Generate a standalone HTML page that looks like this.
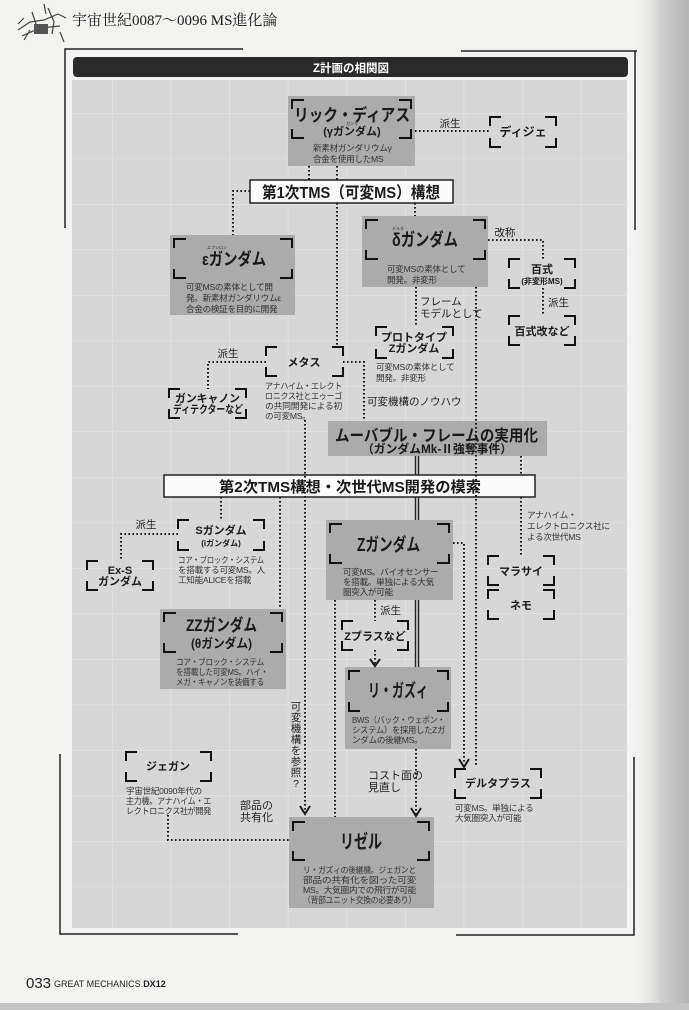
<!DOCTYPE html>
<html><head><meta charset="utf-8">
<style>
html,body{margin:0;padding:0;background:#f3f3f1;}
svg{display:block;}
text{font-family:"Liberation Sans","Noto Sans CJK JP",sans-serif;fill:#1a1a1a;}
.b{font-weight:bold;}
.d{font-size:8.6px;fill:#333;letter-spacing:-0.3px;}
.l{font-size:10.5px;fill:#222;}
</style></head>
<body>
<svg width="689" height="1010" viewBox="0 0 689 1010" xmlns="http://www.w3.org/2000/svg">
<defs>
<linearGradient id="rs" x1="0" x2="1" y1="0" y2="0">
<stop offset="0" stop-color="#f3f3f1" stop-opacity="0"/>
<stop offset="0.5" stop-color="#d0d0d0"/>
<stop offset="1" stop-color="#b4b4b4"/>
</linearGradient>
<pattern id="grid" x="112" y="113" width="58.6" height="45.5" patternUnits="userSpaceOnUse">
<rect width="58.6" height="45.5" fill="#d7d7d7"/>
<path d="M0,0 V45.5 M0,0 H58.6" stroke="#e6e6e6" stroke-width="1.2"/>
</pattern>
</defs>
<rect x="0" y="0" width="689" height="1010" fill="#f3f3f1"/>
<rect x="632" y="0" width="57" height="1010" fill="url(#rs)"/>
<rect x="0" y="1003" width="689" height="7" fill="#c4c4c4"/>

<g stroke="#444" stroke-width="1.2" fill="none">
<path d="M18,30 L30,22 L44,20 L58,14 L66,18 M22,36 L40,28 L60,26 M24,40 L30,30 M48,8 L54,22 L52,34 M44,4 L46,14 M32,12 L36,24 M60,32 L64,42 M18,24 L24,18"/>
</g>
<rect x="34" y="24" width="14" height="10" fill="#555"/>
<text x="72" y="25" style="font-family:'Liberation Serif','Noto Serif CJK SC',serif;font-size:15px;">宇宙世紀0087〜0096  MS進化論</text>

<g stroke="#222" stroke-width="1.5" fill="none">
<path d="M65,228 V49 H243"/>
<path d="M461,51 H637 M635,51 V230"/>
<path d="M60,754 V934 H238"/>
<path d="M456,935 H634 V757"/>
</g>

<rect x="73" y="57" width="555" height="20" rx="4" fill="#2a2a2a"/>
<text x="351" y="72" text-anchor="middle" class="b" style="font-size:11.5px;fill:#fff;">Z計画の相関図</text>

<rect x="72" y="80" width="555" height="848" fill="url(#grid)"/>

<g fill="#ababab">
<rect x="288" y="96" width="127" height="70"/>
<rect x="170" y="235" width="125" height="80"/>
<rect x="362" y="216" width="126" height="71"/>
<rect x="328" y="421" width="219" height="35"/>
<rect x="326" y="520" width="127" height="80"/>
<rect x="160" y="609" width="126" height="80"/>
<rect x="345" y="667" width="106" height="82"/>
<rect x="289" y="817" width="145" height="91"/>
</g>

<rect x="250" y="180" width="203" height="23" fill="#fafafa" stroke="#222" stroke-width="1.5"/>
<rect x="164" y="475" width="371" height="22" fill="#fafafa" stroke="#222" stroke-width="1.5"/>

<g stroke="#1a1a1a" stroke-width="2" stroke-dasharray="1.6 2.4" fill="none">
<path d="M415,131 H490"/>
<path d="M309,166 V180 M337,166 V180"/>
<path d="M250,191 H233 V235"/>
<path d="M337,203 V347"/>
<path d="M415,203 V216"/>
<path d="M488,240 H543 V259"/>
<path d="M543,288 V316"/>
<path d="M416,287 V327"/>
<path d="M476,287 V767"/>
<path d="M266,362 H208 V389"/>
<path d="M343,362 H364 V421"/>
<path d="M305,420 V812"/>
<path d="M521,456 V475 M521,497 V556"/>
<path d="M221,497 V520 M280,497 V609"/>
<path d="M178,534 H121 V561"/>
<path d="M453,543 H464 V764"/>
<path d="M375,600 V621 M375,650 V664"/>
<path d="M335,600 V817"/>
<path d="M416,749 V814"/>
<path d="M168,815 V840 H289"/>
</g>
<g stroke="#222" stroke-width="1.4">
<path d="M415.5,456 V475 M418.5,456 V475"/>
<path d="M415.5,497 V520 M418.5,497 V520"/>
<path d="M415.5,600 V667 M418.5,600 V667"/>
</g>
<g stroke="#1a1a1a" stroke-width="2" fill="none">
<path d="M370,659 L375,666 L380,659"/>
<path d="M300,806 L305,814 L310,806"/>
<path d="M411,808 L416,816 L421,808"/>
<path d="M459,759 L464,767 L469,759"/>
</g>

<g stroke="#111" stroke-width="2" fill="none">
<path d="M292,109 V100 H304 M399,100 H411 V109 M292,129 V138 H304 M399,138 H411 V129"/>
<path d="M490,126 V117 H501 M545,117 H556 V126 M490,138 V147 H501 M545,147 H556 V138"/>
<path d="M174,248 V239 H186 M280,239 H292 V248 M174,269 V278 H186 M280,278 H292 V269"/>
<path d="M366,229 V220 H378 M473,220 H485 V229 M366,250 V259 H378 M473,259 H485 V250"/>
<path d="M509,268 V259 H520 M564,259 H575 V268 M509,279 V288 H520 M564,288 H575 V279"/>
<path d="M509,325 V316 H520 M564,316 H575 V325 M509,336 V345 H520 M564,345 H575 V336"/>
<path d="M376,336 V327 H387 M442,327 H453 V336 M376,349 V358 H387 M442,358 H453 V349"/>
<path d="M266,356 V347 H277 M332,347 H343 V356 M266,367 V376 H277 M332,376 H343 V367"/>
<path d="M169,398 V389 H180 M235,389 H246 V398 M169,409 V418 H180 M235,418 H246 V409"/>
<path d="M178,529 V520 H189 M253,520 H264 V529 M178,541 V550 H189 M253,550 H264 V541"/>
<path d="M87,570 V561 H98 M142,561 H153 V570 M87,581 V590 H98 M142,590 H153 V581"/>
<path d="M330,533 V524 H342 M437,524 H449 V533 M330,554 V563 H342 M437,563 H449 V554"/>
<path d="M342,630 V621 H353 M397,621 H408 V630 M342,641 V650 H353 M397,650 H408 V641"/>
<path d="M164,622 V613 H176 M270,613 H282 V622 M164,643 V652 H176 M270,652 H282 V643"/>
<path d="M349,680 V671 H360 M437,671 H448 V680 M349,702 V711 H360 M437,711 H448 V702"/>
<path d="M126,761 V752 H137 M200,752 H211 V761 M126,772 V781 H137 M200,781 H211 V772"/>
<path d="M293,831 V822 H305 M417,822 H429 V831 M293,851 V860 H305 M417,860 H429 V851"/>
<path d="M455,778 V769 H466 M530,769 H541 V778 M455,789 V798 H466 M530,798 H541 V789"/>
<path d="M488,565 V556 H499 M543,556 H554 V565 M488,576 V585 H499 M543,585 H554 V576"/>
<path d="M488,599 V590 H499 M543,590 H554 V599 M488,610 V619 H499 M543,619 H554 V610"/>
</g>

<text x="294" y="121" class="b" style="font-size:17px;" textLength="116" lengthAdjust="spacingAndGlyphs">リック・ディアス</text>
<text x="352" y="125" text-anchor="middle" style="font-size:4px;">ガンマ</text>
<text x="352" y="135" text-anchor="middle" class="b" style="font-size:11px;">(γガンダム)</text>
<text x="313" y="151" class="d">新素材ガンダリウムγ</text>
<text x="313" y="162" class="d">合金を使用したMS</text>

<text x="450" y="127" text-anchor="middle" class="l">派生</text>
<text x="523" y="136" text-anchor="middle" class="b" style="font-size:12px;">ディジェ</text>

<text x="262" y="198" class="b" style="font-size:16px;" textLength="178" lengthAdjust="spacingAndGlyphs">第1次TMS（可変MS）構想</text>

<text x="207" y="249" style="font-size:4px;">エプシロン</text>
<text x="202" y="265" class="b" style="font-size:17px;" textLength="64" lengthAdjust="spacingAndGlyphs">εガンダム</text>
<text x="186" y="290" class="d">可変MSの素体として開</text>
<text x="186" y="301" class="d">発。新素材ガンダリウムε</text>
<text x="186" y="312" class="d">合金の検証を目的に開発</text>

<text x="392" y="230" style="font-size:4px;">デルタ</text>
<text x="392" y="246" class="b" style="font-size:18px;" textLength="66" lengthAdjust="spacingAndGlyphs">δガンダム</text>
<text x="387" y="272" class="d">可変MSの素体として</text>
<text x="387" y="283" class="d">開発。非変形</text>

<text x="505" y="236" text-anchor="middle" class="l">改称</text>
<text x="542" y="273" text-anchor="middle" class="b" style="font-size:11px;">百式</text>
<text x="542" y="284" text-anchor="middle" class="b" style="font-size:8px;">(非変形MS)</text>
<text x="548" y="306" class="l">派生</text>
<text x="542" y="335" text-anchor="middle" class="b" style="font-size:11px;">百式改など</text>

<text x="420" y="305" class="l">フレーム</text>
<text x="420" y="317" class="l">モデルとして</text>
<text x="414" y="341" text-anchor="middle" class="b" style="font-size:11px;">プロトタイプ</text>
<text x="414" y="352" text-anchor="middle" class="b" style="font-size:11px;">Zガンダム</text>
<text x="376" y="370" class="d">可変MSの素体として</text>
<text x="376" y="381" class="d">開発。非変形</text>

<text x="228" y="357" text-anchor="middle" class="l">派生</text>
<text x="304" y="366" text-anchor="middle" class="b" style="font-size:11px;">メタス</text>
<text x="265" y="389" class="d" textLength="77" lengthAdjust="spacingAndGlyphs">アナハイム・エレクト</text>
<text x="265" y="399" class="d" textLength="77" lengthAdjust="spacingAndGlyphs">ロニクス社とエゥーゴ</text>
<text x="265" y="409" class="d" textLength="77" lengthAdjust="spacingAndGlyphs">の共同開発による初</text>
<text x="265" y="419" class="d">の可変MS。</text>
<text x="175" y="402" class="b" style="font-size:11px;" textLength="65" lengthAdjust="spacingAndGlyphs">ガンキャノン</text>
<text x="173" y="413" class="b" style="font-size:11px;" textLength="70" lengthAdjust="spacingAndGlyphs">ディテクターなど</text>
<text x="367" y="405" class="l">可変機構のノウハウ</text>

<text x="335" y="441" class="b" style="font-size:16px;" textLength="203" lengthAdjust="spacingAndGlyphs">ムーバブル・フレームの実用化</text>
<text x="362" y="453" class="b" style="font-size:12px;" textLength="150" lengthAdjust="spacingAndGlyphs">（ガンダムMk-Ⅱ強奪事件）</text>

<text x="219" y="492" class="b" style="font-size:15px;" textLength="262" lengthAdjust="spacingAndGlyphs">第2次TMS構想・次世代MS開発の模索</text>

<text x="527" y="518" class="d">アナハイム・</text>
<text x="527" y="529" class="d">エレクトロニクス社に</text>
<text x="527" y="540" class="d">よる次世代MS</text>
<text x="521" y="575" text-anchor="middle" class="b" style="font-size:11px;">マラサイ</text>
<text x="521" y="609" text-anchor="middle" class="b" style="font-size:11px;">ネモ</text>

<text x="146" y="528" text-anchor="middle" class="l">派生</text>
<text x="221" y="534" text-anchor="middle" class="b" style="font-size:11px;">Sガンダム</text>
<text x="221" y="546" text-anchor="middle" class="b" style="font-size:8px;">(iガンダム)</text>
<text x="178" y="563" class="d" textLength="86" lengthAdjust="spacingAndGlyphs">コア・ブロック・システム</text>
<text x="178" y="573" class="d">を搭載する可変MS。人</text>
<text x="178" y="583" class="d">工知能ALICEを搭載</text>
<text x="120" y="574" text-anchor="middle" class="b" style="font-size:11px;">Ex-S</text>
<text x="120" y="585" text-anchor="middle" class="b" style="font-size:11px;">ガンダム</text>

<text x="357" y="551" class="b" style="font-size:18px;" textLength="63" lengthAdjust="spacingAndGlyphs">Zガンダム</text>
<text x="343" y="575" class="d">可変MS。バイオセンサー</text>
<text x="343" y="585" class="d">を搭載。単独による大気</text>
<text x="343" y="595" class="d">圏突入が可能</text>
<text x="380" y="614" class="l">派生</text>
<text x="375" y="640" text-anchor="middle" class="b" style="font-size:11px;">Zプラスなど</text>

<text x="186" y="631" class="b" style="font-size:17px;" textLength="71" lengthAdjust="spacingAndGlyphs">ZZガンダム</text>
<text x="191" y="648" class="b" style="font-size:13px;" textLength="61" lengthAdjust="spacingAndGlyphs">(θガンダム)</text>
<text x="176" y="665" class="d" textLength="88" lengthAdjust="spacingAndGlyphs">コア・ブロック・システム</text>
<text x="176" y="675" class="d" textLength="92" lengthAdjust="spacingAndGlyphs">を搭載した可変MS。ハイ・</text>
<text x="176" y="685" class="d" textLength="88" lengthAdjust="spacingAndGlyphs">メガ・キャノンを装備する</text>

<text x="368" y="697" class="b" style="font-size:18px;" textLength="60" lengthAdjust="spacingAndGlyphs">リ・ガズィ</text>
<text x="352" y="723" class="d" textLength="93" lengthAdjust="spacingAndGlyphs">BWS（バック・ウェポン・</text>
<text x="352" y="733" class="d" textLength="93" lengthAdjust="spacingAndGlyphs">システム）を採用したZガ</text>
<text x="352" y="743" class="d">ンダムの後継MS。</text>

<g text-anchor="middle">
<text x="296" y="710" class="l">可</text>
<text x="296" y="721" class="l">変</text>
<text x="296" y="732" class="l">機</text>
<text x="296" y="743" class="l">構</text>
<text x="296" y="754" class="l">を</text>
<text x="296" y="765" class="l">参</text>
<text x="296" y="776" class="l">照</text>
<text x="296" y="787" class="l">?</text>
</g>

<text x="168" y="770" text-anchor="middle" class="b" style="font-size:11px;">ジェガン</text>
<text x="126" y="794" class="d">宇宙世紀0090年代の</text>
<text x="126" y="804" class="d" textLength="85" lengthAdjust="spacingAndGlyphs">主力機。アナハイム・エ</text>
<text x="126" y="814" class="d" textLength="85" lengthAdjust="spacingAndGlyphs">レクトロニクス社が開発</text>
<text x="240" y="809" class="l" style="font-size:11px;">部品の</text>
<text x="240" y="821" class="l" style="font-size:11px;">共有化</text>
<text x="368" y="779" class="l" style="font-size:11px;">コスト面の</text>
<text x="368" y="791" class="l" style="font-size:11px;">見直し</text>

<text x="498" y="787" text-anchor="middle" class="b" style="font-size:11px;">デルタプラス</text>
<text x="455" y="811" class="d">可変MS。単独による</text>
<text x="455" y="821" class="d">大気圏突入が可能</text>

<text x="340" y="848" class="b" style="font-size:19px;" textLength="42" lengthAdjust="spacingAndGlyphs">リゼル</text>
<text x="303" y="873" class="d" textLength="113" lengthAdjust="spacingAndGlyphs">リ・ガズィの後継機。ジェガンと</text>
<text x="303" y="883" class="d" textLength="113" lengthAdjust="spacingAndGlyphs">部品の共有化を図った可変</text>
<text x="303" y="893" class="d" textLength="113" lengthAdjust="spacingAndGlyphs">MS。大気圏内での飛行が可能</text>
<text x="303" y="903" class="d" textLength="113" lengthAdjust="spacingAndGlyphs">（背部ユニット交換の必要あり）</text>

<text x="26" y="988" style="font-size:15px;fill:#222;">033</text>
<text x="54" y="987" style="font-size:9px;fill:#222;">GREAT MECHANICS.<tspan font-weight="bold">DX12</tspan></text>
</svg>
</body></html>
